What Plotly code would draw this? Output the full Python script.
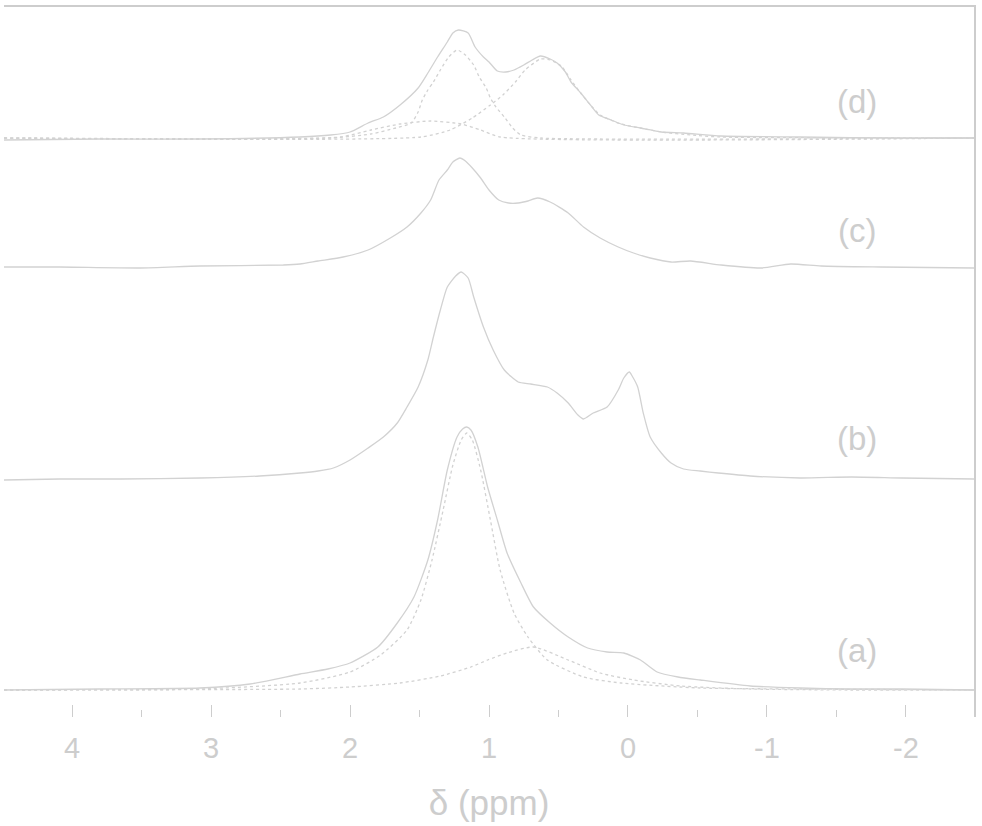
import plotly.graph_objects as go

# ---------------- data ----------------
# chemical shift axis in ppm, intensities in arbitrary units above each baseline
offsets = {"a": 27, "b": 239, "c": 451, "d": 579}

a_env_ppm = [4.49, 3.80, 3.08, 2.72, 2.36, 2.16, 2.00, 1.80, 1.66, 1.54, 1.44, 1.37, 1.30, 1.23, 1.19, 1.16, 1.13, 1.08, 1.01, 0.94, 0.87, 0.77, 0.68, 0.56, 0.43, 0.29, 0.15, 0.03, -0.09, -0.21, -0.36, -0.52, -0.88, -1.24, -1.61, -1.97, -2.49]
a_env_int = [0, 1, 2, 6, 16, 21, 27, 43, 67, 93, 130, 170, 220, 253, 261, 263, 260, 243, 203, 170, 137, 107, 83, 67, 53, 42, 38, 37, 30, 18, 13, 10, 4, 2, 1, 1, 0]

a_c1_ppm = [4.49, 3.08, 2.36, 2.00, 1.78, 1.59, 1.49, 1.41, 1.33, 1.26, 1.20, 1.16, 1.12, 1.06, 0.99, 0.92, 0.82, 0.72, 0.58, 0.32, 0.05, -0.52, -1.24, -2.49]
a_c1_int = [0, 1, 7, 18, 35, 60, 90, 130, 180, 225, 250, 257, 250, 220, 170, 120, 77, 53, 30, 13, 7, 2, 1, 0]

a_c2_ppm = [4.49, 2.36, 2.00, 1.64, 1.35, 1.13, 1.01, 0.87, 0.68, 0.43, 0.20, -0.04, -0.38, -0.88, -1.61, -2.49]
a_c2_int = [0, 1, 3, 7, 14, 23, 30, 37, 43, 30, 17, 10, 4, 1, 0, 0]

b_ppm = [4.49, 4.09, 3.65, 3.08, 2.65, 2.36, 2.23, 2.12, 2.00, 1.87, 1.76, 1.66, 1.59, 1.51, 1.44, 1.40, 1.35, 1.30, 1.24, 1.20, 1.15, 1.11, 1.04, 0.97, 0.89, 0.79, 0.70, 0.58, 0.51, 0.43, 0.36, 0.32, 0.25, 0.15, 0.07, 0.03, -0.01, -0.03, -0.07, -0.11, -0.16, -0.24, -0.31, -0.40, -0.52, -0.65, -0.88, -1.24, -1.61, -1.97, -2.49]
b_int = [-2, -1, -1, 0, 2, 5, 7, 10, 18, 30, 41, 55, 71, 91, 118, 141, 168, 191, 202, 206, 200, 181, 151, 128, 108, 96, 94, 91, 85, 75, 63, 59, 65, 71, 88, 100, 106, 102, 91, 65, 41, 25, 15, 9, 7, 5, 2, 0, 1, 0, -1]

c_ppm = [4.49, 4.09, 3.51, 3.08, 2.48, 2.36, 2.23, 2.05, 1.87, 1.71, 1.59, 1.49, 1.42, 1.36, 1.30, 1.26, 1.21, 1.17, 1.12, 1.06, 1.00, 0.93, 0.86, 0.79, 0.72, 0.65, 0.56, 0.43, 0.32, 0.20, 0.07, -0.04, -0.16, -0.31, -0.45, -0.67, -0.96, -1.17, -1.39, -1.82, -2.49]
c_int = [-1, -1, -2, 0, 1, 2, 5, 9, 16, 28, 39, 53, 66, 86, 96, 104, 108, 105, 98, 88, 76, 66, 63, 63, 65, 68, 64, 53, 39, 28, 19, 13, 8, 4, 5, 1, -2, 2, 0, -1, -2]

d_env_ppm = [4.49, 3.80, 3.08, 2.36, 2.14, 2.00, 1.87, 1.76, 1.64, 1.51, 1.44, 1.37, 1.30, 1.26, 1.22, 1.15, 1.10, 1.04, 1.00, 0.94, 0.88, 0.82, 0.75, 0.69, 0.63, 0.56, 0.51, 0.45, 0.41, 0.34, 0.27, 0.21, 0.12, 0.03, -0.09, -0.24, -0.40, -0.67, -1.24, -1.97, -2.49]
d_env_int = [-2, -1, -1, 1, 3, 6, 15, 21, 33, 50, 65, 81, 96, 105, 108, 105, 91, 81, 76, 67, 66, 68, 73, 78, 82, 79, 75, 66, 56, 45, 33, 23, 18, 13, 10, 6, 5, 2, 1, 0, 0]

d_c1_ppm = [4.49, 2.14, 1.85, 1.67, 1.56, 1.51, 1.48, 1.44, 1.40, 1.35, 1.29, 1.23, 1.17, 1.11, 1.07, 1.02, 0.99, 0.95, 0.89, 0.83, 0.77, 0.63, -2.49]
d_c1_int = [0, 0, 4, 10, 15, 26, 38, 48, 56, 68, 81, 88, 83, 73, 61, 50, 40, 31, 21, 10, 3, 0, 0]

d_c2_ppm = [4.49, 1.49, 1.28, 1.12, 0.99, 0.90, 0.81, 0.74, 0.63, 0.56, 0.48, 0.41, 0.34, 0.27, 0.20, 0.05, -0.09, -0.24, -0.45, -0.67, -2.49]
d_c2_int = [0, 1, 8, 20, 33, 43, 56, 68, 79, 78, 72, 58, 45, 33, 23, 14, 10, 6, 3, 1, 0]

d_c3_ppm = [4.49, 2.07, 1.85, 1.64, 1.42, 1.20, 1.06, 0.92, -2.49]
d_c3_int = [0, 1, 8, 14, 17, 14, 8, 1, 0]

labels = ["(a)", "(b)", "(c)", "(d)"]
label_ppm = -1.65
label_heights = [40, 40, 36, 37]

tick_vals = [4, 3, 2, 1, 0, -1, -2]
tick_text = ["4", "3", "2", "1", "0", "-1", "-2"]
x_range = [4.49, -2.49]

# ---------------- figure ----------------
COL = "#cdcdcd"
LINE_COL = "#d2d2d2"
FONT = "Liberation Sans, Arial, sans-serif"

fig = go.Figure()


def add(ppm, inten, key, dash="solid", width=1.3):
    off = offsets[key]
    fig.add_trace(go.Scatter(
        x=ppm, y=[v + off for v in inten], mode="lines",
        line=dict(color=LINE_COL, width=width, dash=dash, shape="spline", smoothing=0.6),
        hoverinfo="skip", showlegend=False))


add(a_env_ppm, a_env_int, "a")
add(a_c1_ppm, a_c1_int, "a", dash="dot")
add(a_c2_ppm, a_c2_int, "a", dash="dot")
add(b_ppm, b_int, "b")
add(c_ppm, c_int, "c")
add(d_env_ppm, d_env_int, "d")
add(d_c1_ppm, d_c1_int, "d", dash="dot")
add(d_c2_ppm, d_c2_int, "d", dash="dot")
add(d_c3_ppm, d_c3_int, "d", dash="dot")

# empty trace to carry the top axis line
fig.add_trace(go.Scatter(x=[], y=[], xaxis="x2", showlegend=False))

for lab, key, h in zip(labels, ["a", "b", "c", "d"], label_heights):
    fig.add_annotation(x=label_ppm, y=offsets[key] + h, text=lab, showarrow=False,
                       xref="x", yref="y",
                       font=dict(family=FONT, size=33, color=COL))

fig.update_layout(
    width=982, height=826,
    margin=dict(l=4, r=8, t=7, b=109),
    paper_bgcolor="white", plot_bgcolor="white",
    xaxis=dict(
        range=x_range, showgrid=False, zeroline=False, showline=False,
        tickmode="array", tickvals=tick_vals, ticktext=tick_text,
        ticks="inside", ticklen=12, tickwidth=1.3, tickcolor=COL,
        minor=dict(ticks="inside", ticklen=7, tickwidth=1.3, tickcolor=COL, dtick=0.5, showgrid=False),
        tickfont=dict(family=FONT, size=29, color=COL),
        ticklabelstandoff=11,
        title=dict(text="δ (ppm)", font=dict(family=FONT, size=35, color=COL), standoff=27),
    ),
    xaxis2=dict(
        range=x_range, overlaying="x", side="top", showgrid=False, zeroline=False,
        showline=True, linecolor=COL, linewidth=1.5, ticks="", showticklabels=False,
    ),
    yaxis=dict(
        range=[0, 710], side="right", showgrid=False, zeroline=False,
        showline=True, linecolor=COL, linewidth=1.5, ticks="", showticklabels=False,
    ),
)

fig.write_html("out.html")
